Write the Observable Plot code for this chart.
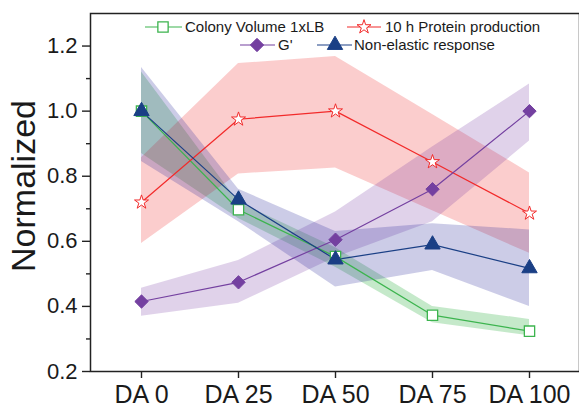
<!DOCTYPE html>
<html>
<head>
<meta charset="utf-8">
<script src="https://cdn.jsdelivr.net/npm/d3@7"></script>
<script src="https://cdn.jsdelivr.net/npm/@observablehq/plot@0.6"></script>
<style>
  html, body { margin: 0; padding: 0; background: #fff; }
  #chart { width: 579px; height: 408px; }
</style>
</head>
<body>
<div id="chart"></div>
<script>
// ---- data ----
const categories = ["DA 0", "DA 25", "DA 50", "DA 75", "DA 100"];

const colonyVolume   = [1.0, 0.697, 0.553, 0.373, 0.324];
const colonyLow      = [0.87, 0.67, 0.52, 0.35, 0.31];
const colonyHigh     = [1.12, 0.72, 0.58, 0.40, 0.36];

const protein        = [0.72, 0.975, 1.0, 0.844, 0.686];
const proteinLow     = [0.593, 0.807, 0.825, 0.694, 0.563];
const proteinHigh    = [0.857, 1.146, 1.168, 0.99, 0.81];

const gPrime         = [0.415, 0.474, 0.605, 0.76, 1.0];
const gPrimeLow      = [0.37, 0.41, 0.55, 0.66, 0.908];
const gPrimeHigh     = [0.456, 0.541, 0.69, 0.89, 1.083];

const nonElastic     = [1.0, 0.728, 0.544, 0.59, 0.517];
const nonElasticLow  = [0.845, 0.66, 0.46, 0.51, 0.40];
const nonElasticHigh = [1.134, 0.76, 0.63, 0.654, 0.635];

const majorTicks = [0.2, 0.4, 0.6, 0.8, 1.0, 1.2];
const minorTicks = [0.3, 0.5, 0.7, 0.9, 1.1];

const seriesNames = ["Colony Volume 1xLB", "10 h Protein production", "G'", "Non-elastic response"];

// ---- styles ----
const series = [
  {name: seriesNames[0], v: colonyVolume, lo: colonyLow, hi: colonyHigh, line: "#3cb44e", band: "#30b040", op: 0.28, symbol: "square", r: 5.8, fill: "white", sw: 1.3},
  {name: seriesNames[1], v: protein, lo: proteinLow, hi: proteinHigh, line: "#f22a2a", band: "#ee1c1c", op: 0.22, symbol: "star", r: 4.4, fill: "white", sw: 1},
  {name: seriesNames[2], v: gPrime, lo: gPrimeLow, hi: gPrimeHigh, line: "#7440a0", band: "#7030a0", op: 0.22, symbol: "diamond2", r: 6.0, fill: "#7440a0", sw: 1},
  {name: seriesNames[3], v: nonElastic, lo: nonElasticLow, hi: nonElasticHigh, line: "#1a3f85", band: "#2b2b9a", op: 0.24, symbol: "triangle", r: 5.7, fill: "#1a3f85", sw: 1}
];

function rows(s) {
  return categories.map((c, i) => ({cat: c, v: s.v[i], lo: s.lo[i], hi: s.hi[i]}));
}

const marks = [];
for (const s of series) {
  marks.push(Plot.areaY(rows(s), {x: "cat", y1: "lo", y2: "hi", fill: s.band, fillOpacity: s.op}));
}
for (const s of series) {
  marks.push(Plot.line(rows(s), {x: "cat", y: "v", stroke: s.line, strokeWidth: 1.2}));
}
for (const s of series) {
  marks.push(Plot.dot(rows(s), {x: "cat", y: "v", symbol: () => s.symbol, r: s.r, fill: s.fill, stroke: s.line, strokeWidth: s.sw}));
}
marks.push(
  Plot.axisX({tickSize: 7, tickPadding: 7, fontSize: 25, label: null, stroke: "#222", strokeWidth: 1.4}),
  Plot.axisY({ticks: majorTicks, tickSize: 8, tickPadding: 5, fontSize: 22, tickFormat: d3.format(".1f"), label: null, stroke: "#222", strokeWidth: 1.4}),
  Plot.axisY({ticks: minorTicks, tickSize: 4, tickFormat: () => "", label: null, stroke: "#222", strokeWidth: 1.4}),
  Plot.frame({stroke: "#222", strokeWidth: 1.5})
);

const chart = Plot.plot({
  width: 579,
  height: 408,
  marginLeft: 90,
  marginRight: 0,
  marginTop: 13,
  marginBottom: 37,
  style: {fontFamily: "'Liberation Sans', Arial, sans-serif", background: "white", color: "#1a1a1a"},
  x: {type: "point", domain: categories, padding: 0.5},
  y: {domain: [0.2, 1.3]},
  marks
});

document.getElementById("chart").appendChild(chart);

// ---- y label & legend (layout only) ----
const svg = d3.select(chart);
svg.append("text")
  .attr("transform", "translate(35,186) rotate(-90)")
  .attr("text-anchor", "middle")
  .style("font-size", "34px")
  .attr("fill", "#1a1a1a")
  .style("font-family", "'Liberation Sans', Arial, sans-serif")
  .text("Normalized");

const legendLayout = [
  {x0: 145, x1: 182, cx: 163, tx: 185, cy: 27},
  {x0: 347, x1: 381, cx: 364, tx: 385, cy: 27},
  {x0: 240, x1: 275, cx: 257, tx: 278, cy: 45},
  {x0: 317, x1: 352, cx: 335, tx: 354, cy: 45}
];
const symMap = {square: d3.symbolSquare, star: d3.symbolStar, diamond2: d3.symbolDiamond2, triangle: d3.symbolTriangle};
const lg = svg.append("g");
series.forEach((s, i) => {
  const L = legendLayout[i];
  lg.append("line").attr("x1", L.x0).attr("x2", L.x1).attr("y1", L.cy).attr("y2", L.cy)
    .attr("stroke", s.line).attr("stroke-width", 1.2);
  lg.append("path")
    .attr("d", d3.symbol(symMap[s.symbol], Math.PI * s.r * s.r)())
    .attr("transform", `translate(${L.cx},${L.cy})`)
    .attr("fill", s.fill).attr("stroke", s.line).attr("stroke-width", s.sw);
  lg.append("text")
    .attr("x", L.tx).attr("y", L.cy + 5.3)
    .attr("text-anchor", "start")
    .style("font-size", "15px")
    .style("font-family", "'Liberation Sans', Arial, sans-serif")
    .attr("fill", "#1a1a1a")
    .text(s.name);
});
</script>
</body>
</html>
